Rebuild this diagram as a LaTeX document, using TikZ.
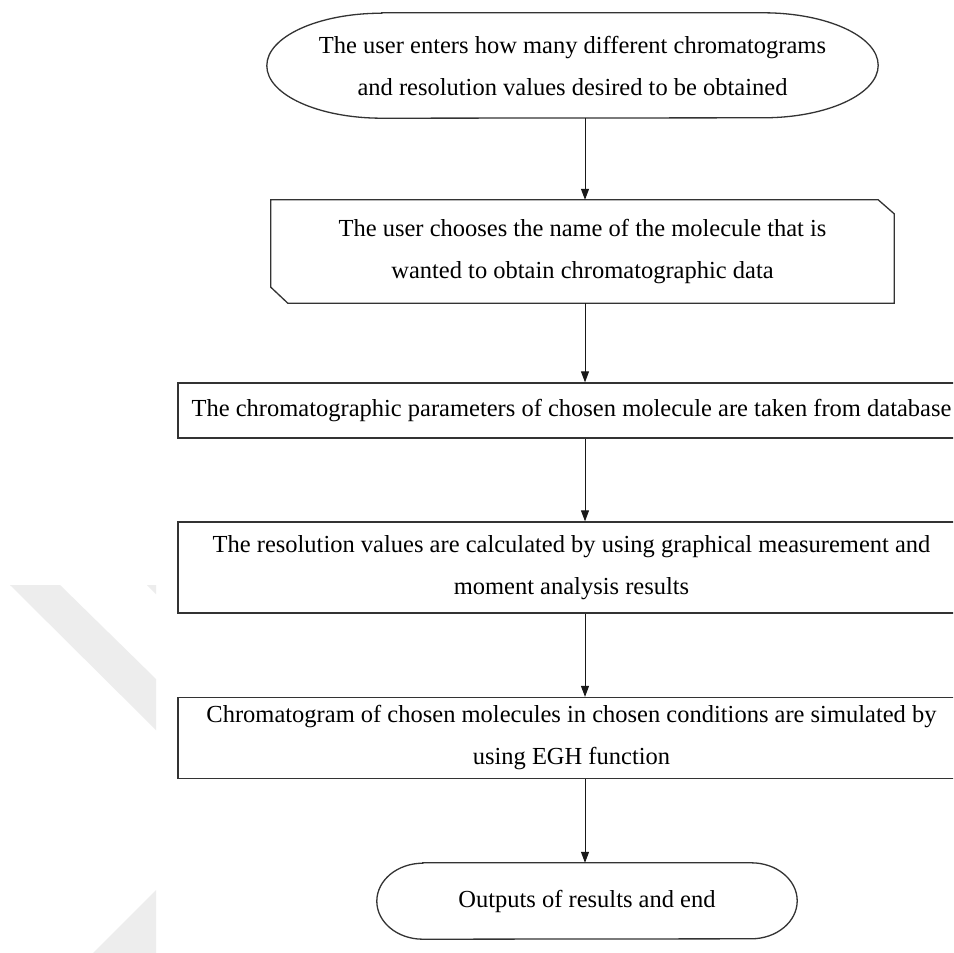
\documentclass[tikz,border=0pt]{standalone}
\usepackage{fontspec}
\setmainfont{Liberation Serif}
\usetikzlibrary{arrows.meta,calc}
\begin{document}
\begin{tikzpicture}[x=1pt,y=1pt,
  line/.style={draw=black!80, line width=1.3pt},
  flow/.style={draw=black!90, line width=1pt, -{Triangle[length=11pt,width=8pt]}},
  txt/.style={align=center, font=\fontsize{24.5}{42}\selectfont, inner sep=0pt},
  wm/.style={fill=black!7}]
\useasboundingbox (0,0) rectangle (953,-953);
\clip (0,0) rectangle (953,-953);
\fill[white] (0,0) rectangle (953,-953);
% faint watermark pieces
\fill[wm] (10,-585) -- (60,-585) -- (156,-679) -- (156,-730) -- cycle;
\fill[wm] (147,-585) -- (156,-585) -- (156,-594) -- cycle;
\fill[wm] (156,-890) -- (156,-953) -- (93,-953) -- cycle;

\coordinate (ax) at (585,0);

% start terminal
\node[txt, minimum width=611pt, minimum height=105pt] (n1) at (572.5,-65.5)
  {The user enters how many different chromatograms\\and resolution values desired to be obtained};
\draw[line] ($(n1.north west)+(115,0)$) -- ($(n1.north east)+(-115,0)$)
  arc[start angle=90,end angle=-90,x radius=115,y radius=52.5]
  -- ($(n1.south west)+(115,0)$)
  arc[start angle=270,end angle=90,x radius=115,y radius=52.5] -- cycle;

% manual input box
\node[txt, minimum width=623pt, minimum height=103pt] (n2) at (582.5,-251.5)
  {The user chooses the name of the molecule that is\\wanted to obtain chromatographic data};
\draw[line] (n2.north west) -- ($(n2.north east)+(-16,0)$) -- ($(n2.north east)+(0,-14)$)
  -- (n2.south east) -- ($(n2.south west)+(17,0)$) -- ($(n2.south west)+(0,16)$) -- cycle;

% process boxes
\node[txt, line, rectangle, minimum width=787pt, minimum height=55pt] (n3) at (571.5,-410.5)
  {The chromatographic parameters of chosen molecule are taken from database};
\node[txt, line, rectangle, minimum width=787pt, minimum height=91pt] (n4) at (571.5,-567.5)
  {The resolution values are calculated by using graphical measurement and\\moment analysis results};
\node[txt, line, rectangle, minimum width=787pt, minimum height=81pt] (n5) at (571.5,-738)
  {Chromatogram of chosen molecules in chosen conditions are simulated by\\using EGH function};

% end terminal
\node[txt, minimum width=420pt, minimum height=76pt] (n6) at (587,-901)
  {Outputs of results and end};
\draw[line] ($(n6.north west)+(46,0)$) -- ($(n6.north east)+(-46,0)$)
  arc[start angle=90,end angle=-90,x radius=46,y radius=38]
  -- ($(n6.south west)+(46,0)$)
  arc[start angle=270,end angle=90,x radius=46,y radius=38] -- cycle;

% connectors
\draw[flow] (n1.south -| ax) -- (n2.north -| ax);
\draw[flow] (n2.south -| ax) -- (n3.north -| ax);
\draw[flow] (n3.south -| ax) -- (n4.north -| ax);
\draw[flow] (n4.south -| ax) -- (n5.north -| ax);
\draw[flow] (n5.south -| ax) -- (n6.north -| ax);
\end{tikzpicture}
\end{document}
